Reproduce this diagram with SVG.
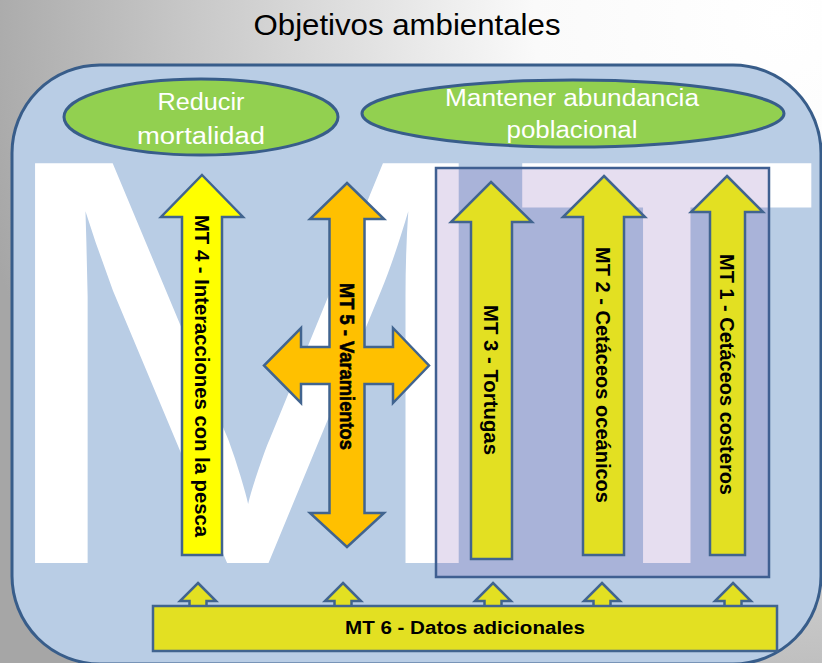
<svg xmlns="http://www.w3.org/2000/svg" width="822" height="663" viewBox="0 0 822 663">
<defs>
<radialGradient id="bg" gradientUnits="userSpaceOnUse" cx="780" cy="20" r="820">
<stop offset="0" stop-color="#ffffff"/>
<stop offset="0.3" stop-color="#fafafa"/>
<stop offset="1" stop-color="#a6a6a6"/>
</radialGradient>
<style>
.frame{fill:#b9cde5;stroke:#385d8a;stroke-width:3}
.ell{fill:#92d050;stroke:#385d8a;stroke-width:3}
.arr{stroke:#41648f;stroke-width:2.5;stroke-linejoin:miter}
.y1{fill:#ffff00}
.y2{fill:#e3e022}
.or{fill:#ffc000}
.wt{font-family:"Liberation Sans",Arial,sans-serif;fill:#ffffff}
.lbl{font-family:"Liberation Sans",Arial,sans-serif;font-weight:bold;fill:#000000;font-size:21px}
.wm{font-family:"Liberation Sans",Arial,sans-serif;fill:#ffffff;font-size:581px}
</style>
</defs>
<rect x="0" y="0" width="822" height="663" fill="url(#bg)"/>
<text x="407" y="35" text-anchor="middle" font-family="Liberation Sans, Arial, sans-serif" font-size="30" fill="#000" textLength="307" lengthAdjust="spacingAndGlyphs">Objetivos ambientales</text>
<g id="frame">
<rect class="frame" x="12" y="65" width="809" height="599" rx="88" ry="88"/>
<text class="wm" transform="scale(1.09,1)" x="-15.5" y="563">M</text>
<text class="wm" transform="scale(0.88,1)" x="580.4" y="563">T</text>
</g>
<g id="obj-reducir">
<ellipse class="ell" cx="201" cy="117" rx="137" ry="38"/>
<text class="wt" x="201" y="110" text-anchor="middle" font-size="23" textLength="87" lengthAdjust="spacingAndGlyphs">Reducir</text>
<text class="wt" x="201" y="144" text-anchor="middle" font-size="23" textLength="128" lengthAdjust="spacingAndGlyphs">mortalidad</text>
</g>
<g id="obj-mantener">
<ellipse class="ell" cx="573" cy="113.5" rx="211" ry="33.5"/>
<text class="wt" x="572" y="106" text-anchor="middle" font-size="23" textLength="254" lengthAdjust="spacingAndGlyphs">Mantener abundancia</text>
<text class="wt" x="572" y="138" text-anchor="middle" font-size="23" textLength="131" lengthAdjust="spacingAndGlyphs">poblacional</text>
</g>
<g id="mt4">
<path class="arr y1" d="M202,175 L243,217 L222,217 L222,555 L182,555 L182,217 L161,217 Z"/>
<text class="lbl" transform="translate(202,215) rotate(90)" x="0" y="7.2" textLength="322" lengthAdjust="spacingAndGlyphs">MT 4 - Interacciones con la pesca</text>
</g>
<g id="mt5">
<path class="arr or" d="M347,183 L384,219 L364.5,219 L364.5,347 L393,347 L393,328 L429,365.5 L393,403 L393,384 L364.5,384 L364.5,513 L384,513 L347,547 L310,513 L329.5,513 L329.5,384 L301,384 L301,403 L264,365.5 L301,328 L301,347 L329.5,347 L329.5,219 L310,219 Z"/>
<text class="lbl" transform="translate(347,283) rotate(90)" x="0" y="7.2" stroke="#000" stroke-width="0.6" textLength="167" lengthAdjust="spacingAndGlyphs">MT 5 - Varamientos</text>
</g>
<g id="grupo-especies">
<rect x="436" y="168" width="333" height="409" fill="rgb(80,20,150)" fill-opacity="0.14" stroke="#3f5f91" stroke-width="2.5"/>
</g>
<g id="mt3">
<path class="arr y2" d="M491,182 L532,222 L512,222 L512,559 L471,559 L471,222 L451,222 Z"/>
<text class="lbl" transform="translate(491.5,305) rotate(90)" x="0" y="7.2" textLength="150" lengthAdjust="spacingAndGlyphs">MT 3 - Tortugas</text>
</g>
<g id="mt2">
<path class="arr y2" d="M604,176 L645,217 L624,217 L624,555 L583,555 L583,217 L563,217 Z"/>
<text class="lbl" transform="translate(603.5,247) rotate(90)" x="0" y="7.2" textLength="256" lengthAdjust="spacingAndGlyphs">MT 2 - Cetáceos oceánicos</text>
</g>
<g id="mt1">
<path class="arr y2" d="M727,176 L763,212 L745,212 L745,555 L710,555 L710,212 L691,212 Z"/>
<text class="lbl" transform="translate(727,254) rotate(90)" x="0" y="7.2" textLength="241" lengthAdjust="spacingAndGlyphs">MT 1 - Cetáceos costeros</text>
</g>
<g id="connectors">
<path class="arr y2" d="M198,583 L216,601 L206.5,601 L206.5,607 L189.5,607 L189.5,601 L180,601 Z"/>
<path class="arr y2" d="M343,583 L361,601 L351.5,601 L351.5,607 L334.5,607 L334.5,601 L325,601 Z"/>
<path class="arr y2" d="M493,583 L511,601 L501.5,601 L501.5,607 L484.5,607 L484.5,601 L475,601 Z"/>
<path class="arr y2" d="M602,583 L620,601 L610.5,601 L610.5,607 L593.5,607 L593.5,601 L584,601 Z"/>
<path class="arr y2" d="M733,583 L751,601 L741.5,601 L741.5,607 L724.5,607 L724.5,601 L715,601 Z"/>
</g>
<g id="mt6">
<rect class="arr y2" x="153" y="606" width="624" height="45"/>
<text x="465" y="634" text-anchor="middle" font-family="Liberation Sans, Arial, sans-serif" font-weight="bold" font-size="18" fill="#000" textLength="240" lengthAdjust="spacingAndGlyphs">MT 6 - Datos adicionales</text>
</g>
</svg>
